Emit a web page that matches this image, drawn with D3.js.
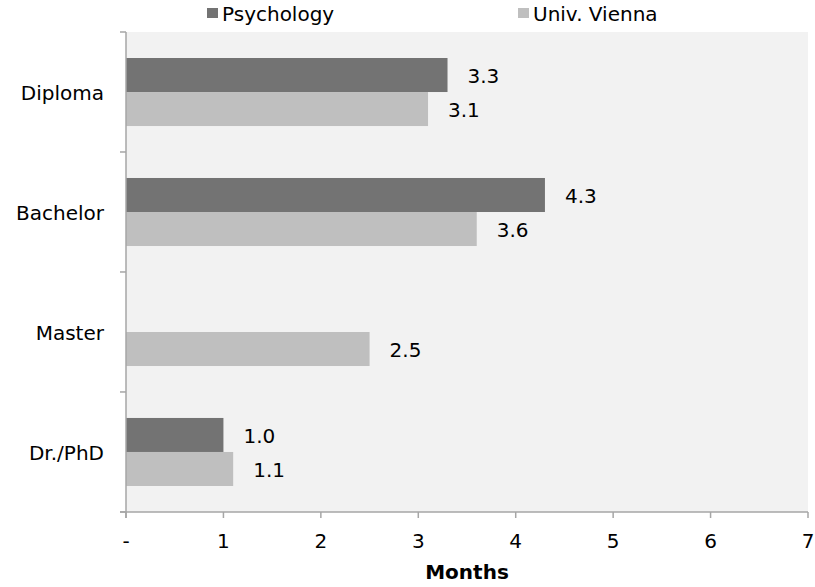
<!DOCTYPE html>
<html>
<head>
<meta charset="utf-8">
<script src="https://cdn.jsdelivr.net/npm/d3@7"></script>
<style>
  body { margin: 0; background: #fff; }
  text { font-family: "DejaVu Sans", Verdana, sans-serif; fill: #000; }
</style>
</head>
<body>
<svg id="chart"></svg>
<script>
// data
const categories = ["Diploma", "Bachelor", "Master", "Dr./PhD"];
const seriesNames = ["Psychology", "Univ. Vienna"];
const psychology = [3.3, 4.3, null, 1.0];
const univVienna = [3.1, 3.6, 2.5, 1.1];
const xTicks = [0, 1, 2, 3, 4, 5, 6, 7];
const xTickLabels = ["-", "1", "2", "3", "4", "5", "6", "7"];
const colors = ["#737373", "#bfbfbf"];

const width = 815;
const height = 587;
const plot = { left: 126, right: 808, top: 32, bottom: 512 };

const svg = d3.select("#chart").attr("width", width).attr("height", height);

const x = d3.scaleLinear().domain([0, 7]).range([plot.left, plot.right]);
const y = d3.scaleBand()
  .domain(categories)
  .range([plot.top, plot.bottom])
  .paddingInner(0.433)
  .paddingOuter(0.2167);
const sub = d3.scaleBand().domain(seriesNames).range([0, y.bandwidth()]);

// plot background
svg.append("rect")
  .attr("x", plot.left)
  .attr("y", plot.top)
  .attr("width", plot.right - plot.left)
  .attr("height", plot.bottom - plot.top)
  .attr("fill", "#f2f2f2");

// rows of bars
const rows = categories.map((c, i) => ({
  cat: c,
  values: [psychology[i], univVienna[i]]
}));

rows.forEach(row => {
  row.values.forEach((v, j) => {
    if (v === null) return;
    const yy = y(row.cat) + sub(seriesNames[j]);
    svg.append("rect")
      .attr("x", x(0))
      .attr("y", yy)
      .attr("width", x(v) - x(0))
      .attr("height", sub.bandwidth())
      .attr("fill", colors[j]);
    svg.append("text")
      .attr("x", x(v) + 20)
      .attr("y", yy + sub.bandwidth() / 2 + 8)
      .style("font-size", "20px")
      .text(v.toFixed(1));
  });
});

// y axis: line plus ticks at band boundaries
const axisColor = "#a6a6a6";
svg.append("line")
  .attr("x1", plot.left).attr("x2", plot.left)
  .attr("y1", plot.top).attr("y2", plot.bottom + 6)
  .attr("stroke", axisColor).attr("stroke-width", 1.5);

d3.range(categories.length + 1).forEach(i => {
  const yy = plot.top + i * y.step();
  svg.append("line")
    .attr("x1", plot.left - 6).attr("x2", plot.left)
    .attr("y1", yy).attr("y2", yy)
    .attr("stroke", axisColor).attr("stroke-width", 1.5);
});

svg.selectAll("text.cat")
  .data(categories)
  .enter()
  .append("text")
  .attr("class", "cat")
  .attr("x", 104)
  .attr("y", d => y(d) + y.bandwidth() / 2 + 8)
  .attr("text-anchor", "end")
  .style("font-size", "20px")
  .text(d => d);

// x axis
svg.append("line")
  .attr("x1", plot.left - 6).attr("x2", plot.right)
  .attr("y1", plot.bottom).attr("y2", plot.bottom)
  .attr("stroke", axisColor).attr("stroke-width", 1.5);

xTicks.forEach((t, i) => {
  svg.append("line")
    .attr("x1", x(t)).attr("x2", x(t))
    .attr("y1", plot.bottom).attr("y2", plot.bottom + 6)
    .attr("stroke", axisColor).attr("stroke-width", 1.5);
  svg.append("text")
    .attr("x", x(t))
    .attr("y", 548)
    .attr("text-anchor", "middle")
    .style("font-size", "20px")
    .text(xTickLabels[i]);
});

svg.append("text")
  .attr("x", (plot.left + plot.right) / 2)
  .attr("y", 579)
  .attr("text-anchor", "middle")
  .style("font-size", "20px")
  .style("font-weight", "bold")
  .text("Months");

// legend
const legendX = [207, 518];
seriesNames.forEach((name, i) => {
  svg.append("rect")
    .attr("x", legendX[i])
    .attr("y", 8)
    .attr("width", 11)
    .attr("height", 10)
    .attr("fill", colors[i]);
  svg.append("text")
    .attr("x", legendX[i] + 15)
    .attr("y", 21)
    .style("font-size", "20px")
    .text(name);
});
</script>
</body>
</html>
